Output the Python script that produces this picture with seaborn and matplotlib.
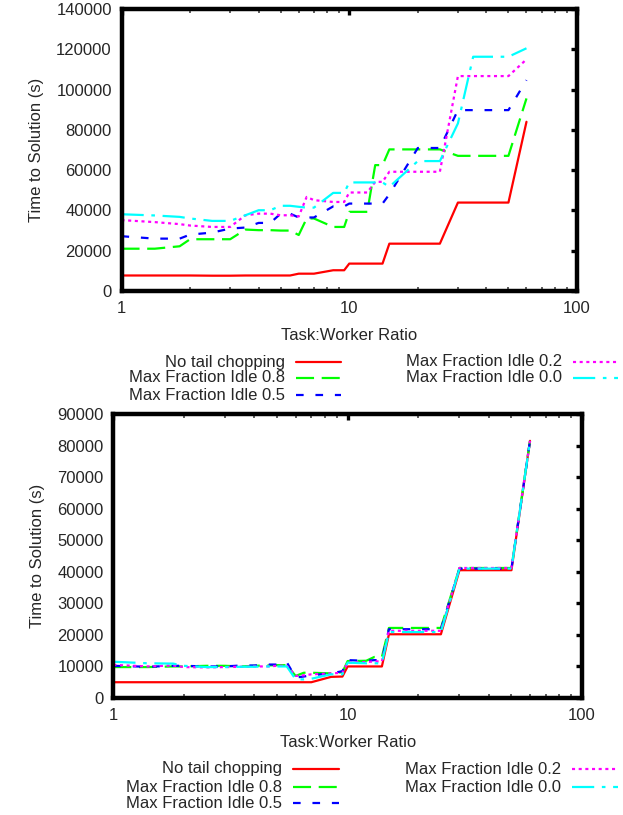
import matplotlib
matplotlib.use("Agg")
import matplotlib.pyplot as plt
from matplotlib.lines import Line2D
from matplotlib.ticker import FixedLocator, FuncFormatter, LogLocator, NullFormatter
import pandas as pd
import seaborn as sns

# Task:Worker ratios at which each configuration was run
ratio = [1, 1.4, 1.8, 2, 2.5, 3, 3.5, 4, 4.5, 5, 5.5, 6, 6.5, 7, 8.5, 9.5,
         10, 12, 13, 14, 15, 20, 25, 30, 35, 50, 60]

series_names = ["No tail chopping", "Max Fraction Idle 0.8", "Max Fraction Idle 0.5",
                "Max Fraction Idle 0.2", "Max Fraction Idle 0.0"]

# Upper panel: time to solution (s)
top_none = [7700, 7700, 7700, 7700, 7600, 7600, 7700, 7700, 7700, 7700, 7700, 8600, 8600, 8600,
            10300, 10300, 13600, 13600, 13600, 13600, 23500, 23500, 23500, 43900, 43900, 43900, 84000]
top_08 = [21000, 21000, 22200, 25700, 25700, 25700, 30500, 30200, 30200, 30000, 30000, 27800, 36000, 36000,
          31800, 31800, 39300, 39300, 62500, 62500, 70300, 70300, 70300, 67100, 67100, 67100, 95600]
top_05 = [27200, 26000, 26000, 28000, 29000, 31000, 31500, 33800, 33800, 38400, 38400, 36500, 36500, 36500,
          42000, 42000, 43400, 43400, 43400, 43400, 48000, 71000, 71000, 89800, 89800, 89800, 104700]
top_02 = [35200, 34200, 33200, 32500, 31800, 31800, 37600, 38400, 38400, 37600, 37600, 37000, 46700, 45100,
          44200, 44200, 48900, 48900, 54200, 54200, 59200, 59200, 59200, 106700, 106700, 106700, 115000]
top_00 = [38100, 37500, 36800, 36000, 34800, 34800, 37600, 40100, 40100, 42300, 42300, 41800, 41400, 41400,
          48700, 48700, 53900, 53900, 53900, 53900, 51700, 64500, 64500, 83200, 116300, 116300, 120500]

# Lower panel: time to solution (s)
bot_none = [5000, 5000, 5000, 5000, 5000, 5000, 5000, 5000, 5000, 5000, 5000, 5000, 5000, 5000,
            6700, 6800, 10000, 10000, 10000, 10000, 20200, 20200, 20200, 40500, 40500, 40500, 81500]
bot_08 = [9800, 9800, 10000, 10000, 10200, 10200, 10000, 10200, 10300, 10400, 10400, 7000, 8000, 8000,
          7800, 8200, 11700, 11800, 13000, 13000, 22200, 22200, 22200, 41200, 41200, 41200, 81500]
bot_05 = [10200, 9900, 10200, 10200, 10000, 10000, 10300, 10300, 10600, 10600, 11300, 6500, 6800, 7200,
          7800, 8500, 12000, 11800, 12000, 12000, 21800, 21800, 21800, 41000, 41000, 41000, 81500]
bot_02 = [10500, 10000, 10300, 9800, 9700, 9800, 9900, 10000, 10000, 10200, 10200, 7000, 7200, 7500,
          7800, 8000, 11200, 11400, 11600, 11600, 21300, 21300, 21300, 41200, 41200, 41200, 81500]
bot_00 = [11500, 11000, 10900, 10200, 9800, 9800, 9900, 9900, 10000, 10000, 10000, 5900, 5900, 6100,
          7500, 7500, 11200, 11000, 11000, 11000, 20900, 20900, 20900, 41000, 41000, 41000, 81500]

top_ticks = [0, 20000, 40000, 60000, 80000, 100000, 120000, 140000]
bot_ticks = [0, 10000, 20000, 30000, 40000, 50000, 60000, 70000, 80000, 90000]
x_ticks = [1, 10, 100]

colors = dict(zip(series_names, ["#ff0000", "#00ff00", "#0000ff", "#ff00ff", "#00ffff"]))
dash_styles = dict(zip(series_names, ["", (13, 5.5), (5.5, 8.5), (2.2, 2.6), (16, 5.5, 2.6, 5.5)]))

sns.set_style("white")
plt.rcParams["font.family"] = ["Liberation Sans", "DejaVu Sans"]
plt.rcParams["lines.scale_dashes"] = False
FS = 12

W, H = 623, 815
fig = plt.figure(figsize=(W / 100, H / 100), dpi=100)


def px_axes(left, top, right, bottom):
    return fig.add_axes([left / W, 1 - bottom / H, (right - left) / W, (bottom - top) / H])


def to_long(values):
    frames = []
    for name, vals in zip(series_names, values):
        frames.append(pd.DataFrame({"ratio": ratio, "time": vals, "series": name}))
    return pd.concat(frames, ignore_index=True)


def draw_panel(ax, values, yticks):
    df = to_long(values)
    sns.lineplot(data=df, x="ratio", y="time", hue="series", style="series",
                 hue_order=series_names, style_order=series_names,
                 palette=colors, dashes=dash_styles, linewidth=1.6,
                 estimator=None, sort=False, legend=False, ax=ax)
    ax.set_xscale("log")
    ax.set_xlim(1, 100)
    ax.set_ylim(yticks[0], yticks[-1])
    ax.xaxis.set_major_locator(FixedLocator(x_ticks))
    ax.xaxis.set_major_formatter(FuncFormatter(lambda v, p: f"{v:g}"))
    ax.xaxis.set_minor_locator(LogLocator(base=10, subs=range(2, 10)))
    ax.xaxis.set_minor_formatter(NullFormatter())
    ax.yaxis.set_major_locator(FixedLocator(yticks))
    ax.yaxis.set_major_formatter(FuncFormatter(lambda v, p: f"{int(v)}"))
    ax.tick_params(which="major", direction="in", top=True, right=True, length=4.5, width=2.4,
                   color="black", labelsize=FS, pad=7)
    ax.tick_params(which="minor", direction="in", top=True, bottom=True, length=3.2, width=1.1,
                   color="#333333")
    ax.tick_params(axis="y", which="minor", left=False, right=False)
    for s in ax.spines.values():
        s.set_linewidth(3.2)
        s.set_color("black")
    ax.set_xlabel("Task:Worker Ratio", fontsize=FS, labelpad=9)
    ax.set_ylabel("Time to Solution (s)", fontsize=FS, labelpad=9)


def draw_key(rows_y, left_text_x, left_line, right_text_x, right_line):
    positions = [(left_text_x, left_line, rows_y[0]), (left_text_x, left_line, rows_y[1]),
                 (left_text_x, left_line, rows_y[2]), (right_text_x, right_line, rows_y[0]),
                 (right_text_x, right_line, rows_y[1])]
    for name, (tx, (l0, l1), y) in zip(series_names, positions):
        fig.text(tx / W, 1 - y / H, name, ha="right", va="center", fontsize=FS)
        style = dash_styles[name]
        kw = {"linestyle": "-"} if style == "" else {"dashes": style}
        fig.add_artist(Line2D([l0 / W, l1 / W], [1 - y / H, 1 - y / H], color=colors[name],
                              linewidth=1.6, transform=fig.transFigure, **kw))


ax1 = px_axes(121.5, 9, 577, 291)
draw_panel(ax1, [top_none, top_08, top_05, top_02, top_00], top_ticks)
draw_key([362, 378, 395], 285, (296, 341), 562, (573, 618))

ax2 = px_axes(113.3, 414, 582, 698)
draw_panel(ax2, [bot_none, bot_08, bot_05, bot_02, bot_00], bot_ticks)
draw_key([769, 787, 803], 282, (293, 339), 561, (572, 618))

fig.savefig("out.png", dpi=100, facecolor="white")
